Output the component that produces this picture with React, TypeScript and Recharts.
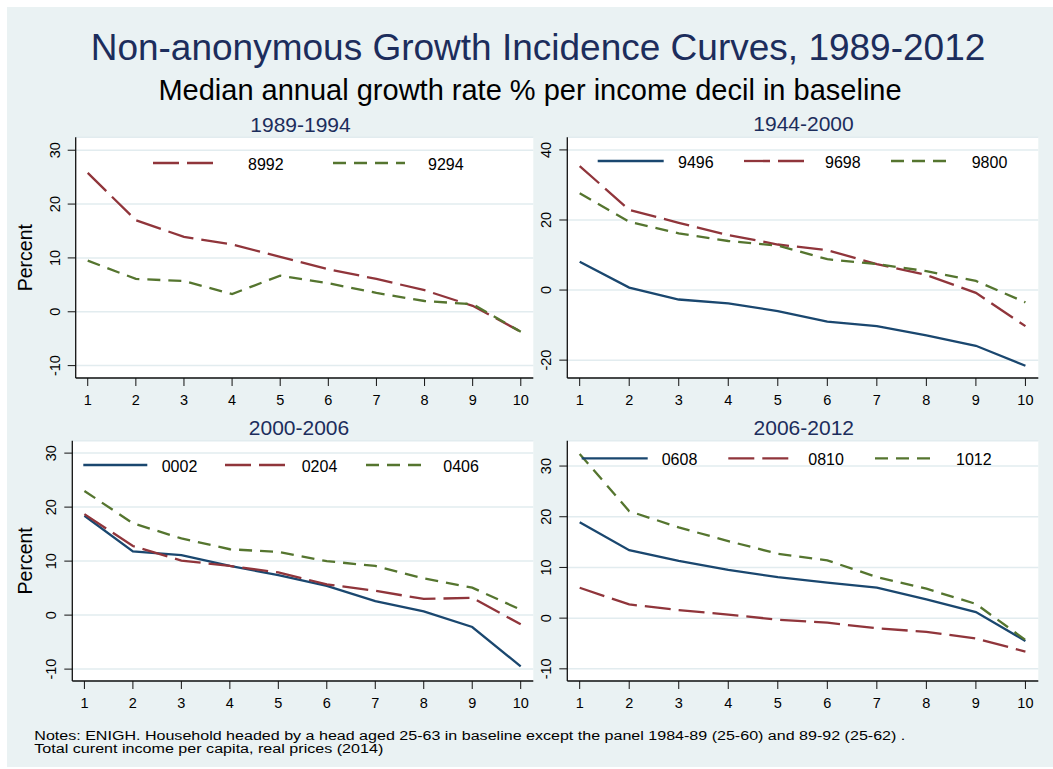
import { CartesianGrid, Line, LineChart, XAxis, YAxis } from "recharts";

// deciles of income in baseline
const deciles = [1, 2, 3, 4, 5, 6, 7, 8, 9, 10];

// median annual growth rate (%) per decile
const g8992 = [25.8, 17.0, 13.9, 12.5, 10.2, 7.9, 6.1, 4.0, 1.1, -3.7];
const g9294 = [9.5, 6.1, 5.7, 3.3, 6.7, 5.3, 3.5, 2.0, 1.4, -3.7];
const g9496 = [8.1, 0.7, -2.7, -3.8, -6.0, -9.0, -10.3, -12.9, -15.9, -21.6];
const g9698 = [35.4, 22.9, 19.2, 15.7, 13.0, 11.4, 7.4, 4.3, -0.8, -10.3];
const g9800 = [27.6, 19.5, 16.2, 14.0, 12.7, 8.8, 7.4, 5.4, 2.6, -3.5];
const g0002 = [18.4, 11.8, 11.1, 9.1, 7.4, 5.4, 2.6, 0.7, -2.2, -9.5];
const g0204 = [18.7, 12.8, 10.1, 9.1, 7.9, 5.7, 4.5, 3.0, 3.2, -1.7];
const g0406 = [23.0, 17.0, 14.2, 12.2, 11.7, 10.0, 9.1, 6.8, 5.1, 1.0];
const g0608 = [18.9, 13.4, 11.3, 9.5, 8.1, 7.0, 6.0, 3.7, 1.2, -4.5];
const g0810 = [6.0, 2.7, 1.6, 0.7, -0.3, -0.9, -2.0, -2.7, -4.0, -6.6];
const g1012 = [32.4, 21.1, 17.9, 15.2, 12.7, 11.4, 8.1, 5.8, 2.8, -4.3];

const ticks10 = [-10, 0, 10, 20, 30];
const ticks20 = [-20, 0, 20, 40];

const FONT = "'Liberation Sans', Arial, Helvetica, sans-serif";
const BG = "#EAF2F3";
const GRID = "#E2ECEF";
const TITLE = "#1C2D5C";
const NAVY = "#1A476F";
const MAROON = "#90353B";
const GREEN = "#55752F";
const LONG = "26 8";
const SHORT = "13 8";

type Series = { key: string; values: number[]; color: string; dash?: string };
type LegendItem = { x: number; lx: number; len: number };
type PanelCfg = {
  title: string;
  titleX: number;
  titleY: number;
  box: { left: number; top: number; w: number; h: number };
  plot: { x0: number; x1: number; y0: number; y1: number };
  yDomain: [number, number];
  yTicks: number[];
  series: Series[];
  legendY: number;
  legend: LegendItem[];
  yLabel?: boolean;
};

const panels: PanelCfg[] = [
  {
    title: "1989-1994",
    titleX: 300.5,
    titleY: 131.5,
    box: { left: 0, top: 130, w: 545, h: 290 },
    plot: { x0: 75.7, x1: 533.3, y0: 137.3, y1: 378 },
    yDomain: [-12.3, 32.4],
    yTicks: ticks10,
    series: [
      { key: "8992", values: g8992, color: MAROON, dash: LONG },
      { key: "9294", values: g9294, color: GREEN, dash: SHORT },
    ],
    legendY: 163,
    legend: [
      { x: 153, lx: 248, len: 68 },
      { x: 333, lx: 428, len: 72 },
    ],
    yLabel: true,
  },
  {
    title: "1944-2000",
    titleX: 803.5,
    titleY: 131,
    box: { left: 520, top: 130, w: 533, h: 290 },
    plot: { x0: 567.3, x1: 1038.3, y0: 137.3, y1: 378 },
    yDomain: [-25.1, 43.6],
    yTicks: ticks20,
    series: [
      { key: "9496", values: g9496, color: NAVY },
      { key: "9698", values: g9698, color: MAROON, dash: LONG },
      { key: "9800", values: g9800, color: GREEN, dash: SHORT },
    ],
    legendY: 161,
    legend: [
      { x: 597.7, lx: 678, len: 66 },
      { x: 744, lx: 825, len: 66 },
      { x: 891, lx: 971.7, len: 62 },
    ],
  },
  {
    title: "2000-2006",
    titleX: 299,
    titleY: 435,
    box: { left: 0, top: 430, w: 545, h: 300 },
    plot: { x0: 72.3, x1: 533.3, y0: 440.7, y1: 681 },
    yDomain: [-12.2, 32.3],
    yTicks: ticks10,
    series: [
      { key: "0002", values: g0002, color: NAVY },
      { key: "0204", values: g0204, color: MAROON, dash: LONG },
      { key: "0406", values: g0406, color: GREEN, dash: SHORT },
    ],
    legendY: 465,
    legend: [
      { x: 83.3, lx: 161.7, len: 64 },
      { x: 225, lx: 301.7, len: 63 },
      { x: 366, lx: 443.3, len: 61 },
    ],
    yLabel: true,
  },
  {
    title: "2006-2012",
    titleX: 803.8,
    titleY: 435,
    box: { left: 520, top: 430, w: 533, h: 300 },
    plot: { x0: 567.3, x1: 1038.3, y0: 440.7, y1: 681 },
    yDomain: [-12.4, 35.0],
    yTicks: ticks10,
    series: [
      { key: "0608", values: g0608, color: NAVY },
      { key: "0810", values: g0810, color: MAROON, dash: LONG },
      { key: "1012", values: g1012, color: GREEN, dash: SHORT },
    ],
    legendY: 458.3,
    legend: [
      { x: 581.7, lx: 661.7, len: 66 },
      { x: 728.3, lx: 808.3, len: 66 },
      { x: 875, lx: 956, len: 62 },
    ],
  },
];

const XTick = (props: any) => {
  const { x, y, payload } = props;
  return (
    <text x={x} y={y} dy="0.71em" textAnchor="middle" fontSize={14.5} fontFamily={FONT} fill="#000">
      {payload.value}
    </text>
  );
};

const YTick = (props: any) => {
  const { x, y, payload } = props;
  return (
    <text
      x={x}
      y={y}
      transform={`rotate(-90 ${x} ${y})`}
      textAnchor="middle"
      fontSize={14.5}
      fontFamily={FONT}
      fill="#000"
    >
      {payload.value}
    </text>
  );
};

function Panel({ cfg }: { cfg: PanelCfg }) {
  const { box, plot } = cfg;
  const yw = 40;
  const xh = 30;
  const margin = {
    left: plot.x0 - box.left - yw,
    right: box.left + box.w - plot.x1,
    top: plot.y0 - box.top,
    bottom: box.top + box.h - plot.y1 - xh,
  };
  const data = deciles.map((d, i) => {
    const row: Record<string, number> = { d };
    cfg.series.forEach((s) => (row[s.key] = s.values[i]));
    return row;
  });

  return (
    <div style={{ position: "absolute", left: box.left, top: box.top }}>
      <LineChart width={box.w} height={box.h} data={data} margin={margin}>
        <CartesianGrid vertical={false} stroke={GRID} strokeWidth={1.5} fill="#fff" />
        <XAxis
          dataKey="d"
          type="number"
          domain={[0.75, 10.26]}
          ticks={deciles}
          height={xh}
          tickSize={8}
          tickMargin={9}
          axisLine={{ stroke: "#111", strokeWidth: 1.3 }}
          tickLine={{ stroke: "#111", strokeWidth: 1 }}
          tick={XTick}
          allowDataOverflow
        />
        <YAxis
          type="number"
          domain={cfg.yDomain}
          ticks={cfg.yTicks}
          width={yw}
          tickSize={8}
          tickMargin={8}
          axisLine={{ stroke: "#111", strokeWidth: 1.3 }}
          tickLine={{ stroke: "#111", strokeWidth: 1 }}
          tick={YTick}
          allowDataOverflow
        />
        {cfg.series.map((s) => (
          <Line
            key={s.key}
            type="linear"
            dataKey={s.key}
            stroke={s.color}
            strokeWidth={2.3}
            strokeDasharray={s.dash}
            dot={false}
            activeDot={false}
            isAnimationActive={false}
          />
        ))}
      </LineChart>
    </div>
  );
}

export default function App() {
  return (
    <div style={{ position: "absolute", left: 0, top: 0, width: 1053, height: 769, background: "#fff", fontFamily: FONT }}>
      <div style={{ position: "absolute", left: 7, top: 7, width: 1046, height: 760, background: BG }} />
      {panels.map((p) => (
        <Panel key={p.title} cfg={p} />
      ))}
      <svg
        width={1053}
        height={769}
        style={{ position: "absolute", left: 0, top: 0, pointerEvents: "none" }}
        fontFamily={FONT}
      >
        <text x={538} y={60} textAnchor="middle" fontSize={37} fill={TITLE}>
          Non-anonymous Growth Incidence Curves, 1989-2012
        </text>
        <text x={530} y={100} textAnchor="middle" fontSize={29} fill="#000">
          Median annual growth rate % per income decil in baseline
        </text>
        {panels.map((p) => (
          <g key={p.title}>
            <text x={p.titleX} y={p.titleY} textAnchor="middle" fontSize={21} fill={TITLE}>
              {p.title}
            </text>
            {p.yLabel && (
              <text
                x={32.5}
                y={(p.plot.y0 + p.plot.y1) / 2}
                transform={`rotate(-90 32.5 ${(p.plot.y0 + p.plot.y1) / 2})`}
                textAnchor="middle"
                fontSize={19.5}
                fill="#000"
              >
                Percent
              </text>
            )}
            {p.series.map((s, i) => {
              const it = p.legend[i];
              return (
                <g key={s.key}>
                  <line
                    x1={it.x}
                    x2={it.x + it.len}
                    y1={p.legendY}
                    y2={p.legendY}
                    stroke={s.color}
                    strokeWidth={2.3}
                    strokeDasharray={s.dash}
                  />
                  <text x={it.lx} y={p.legendY + 7} fontSize={16} fill="#000">
                    {s.key}
                  </text>
                </g>
              );
            })}
          </g>
        ))}
        <text x={34.3} y={739.5} fontSize={12} fill="#000" textLength={871} lengthAdjust="spacingAndGlyphs">
          Notes: ENIGH. Household headed by a head aged 25-63 in baseline except the panel 1984-89 (25-60) and 89-92 (25-62) .
        </text>
        <text x={34.3} y={752.5} fontSize={12} fill="#000" textLength={349} lengthAdjust="spacingAndGlyphs">
          Total curent income per capita, real prices (2014)
        </text>
      </svg>
    </div>
  );
}
